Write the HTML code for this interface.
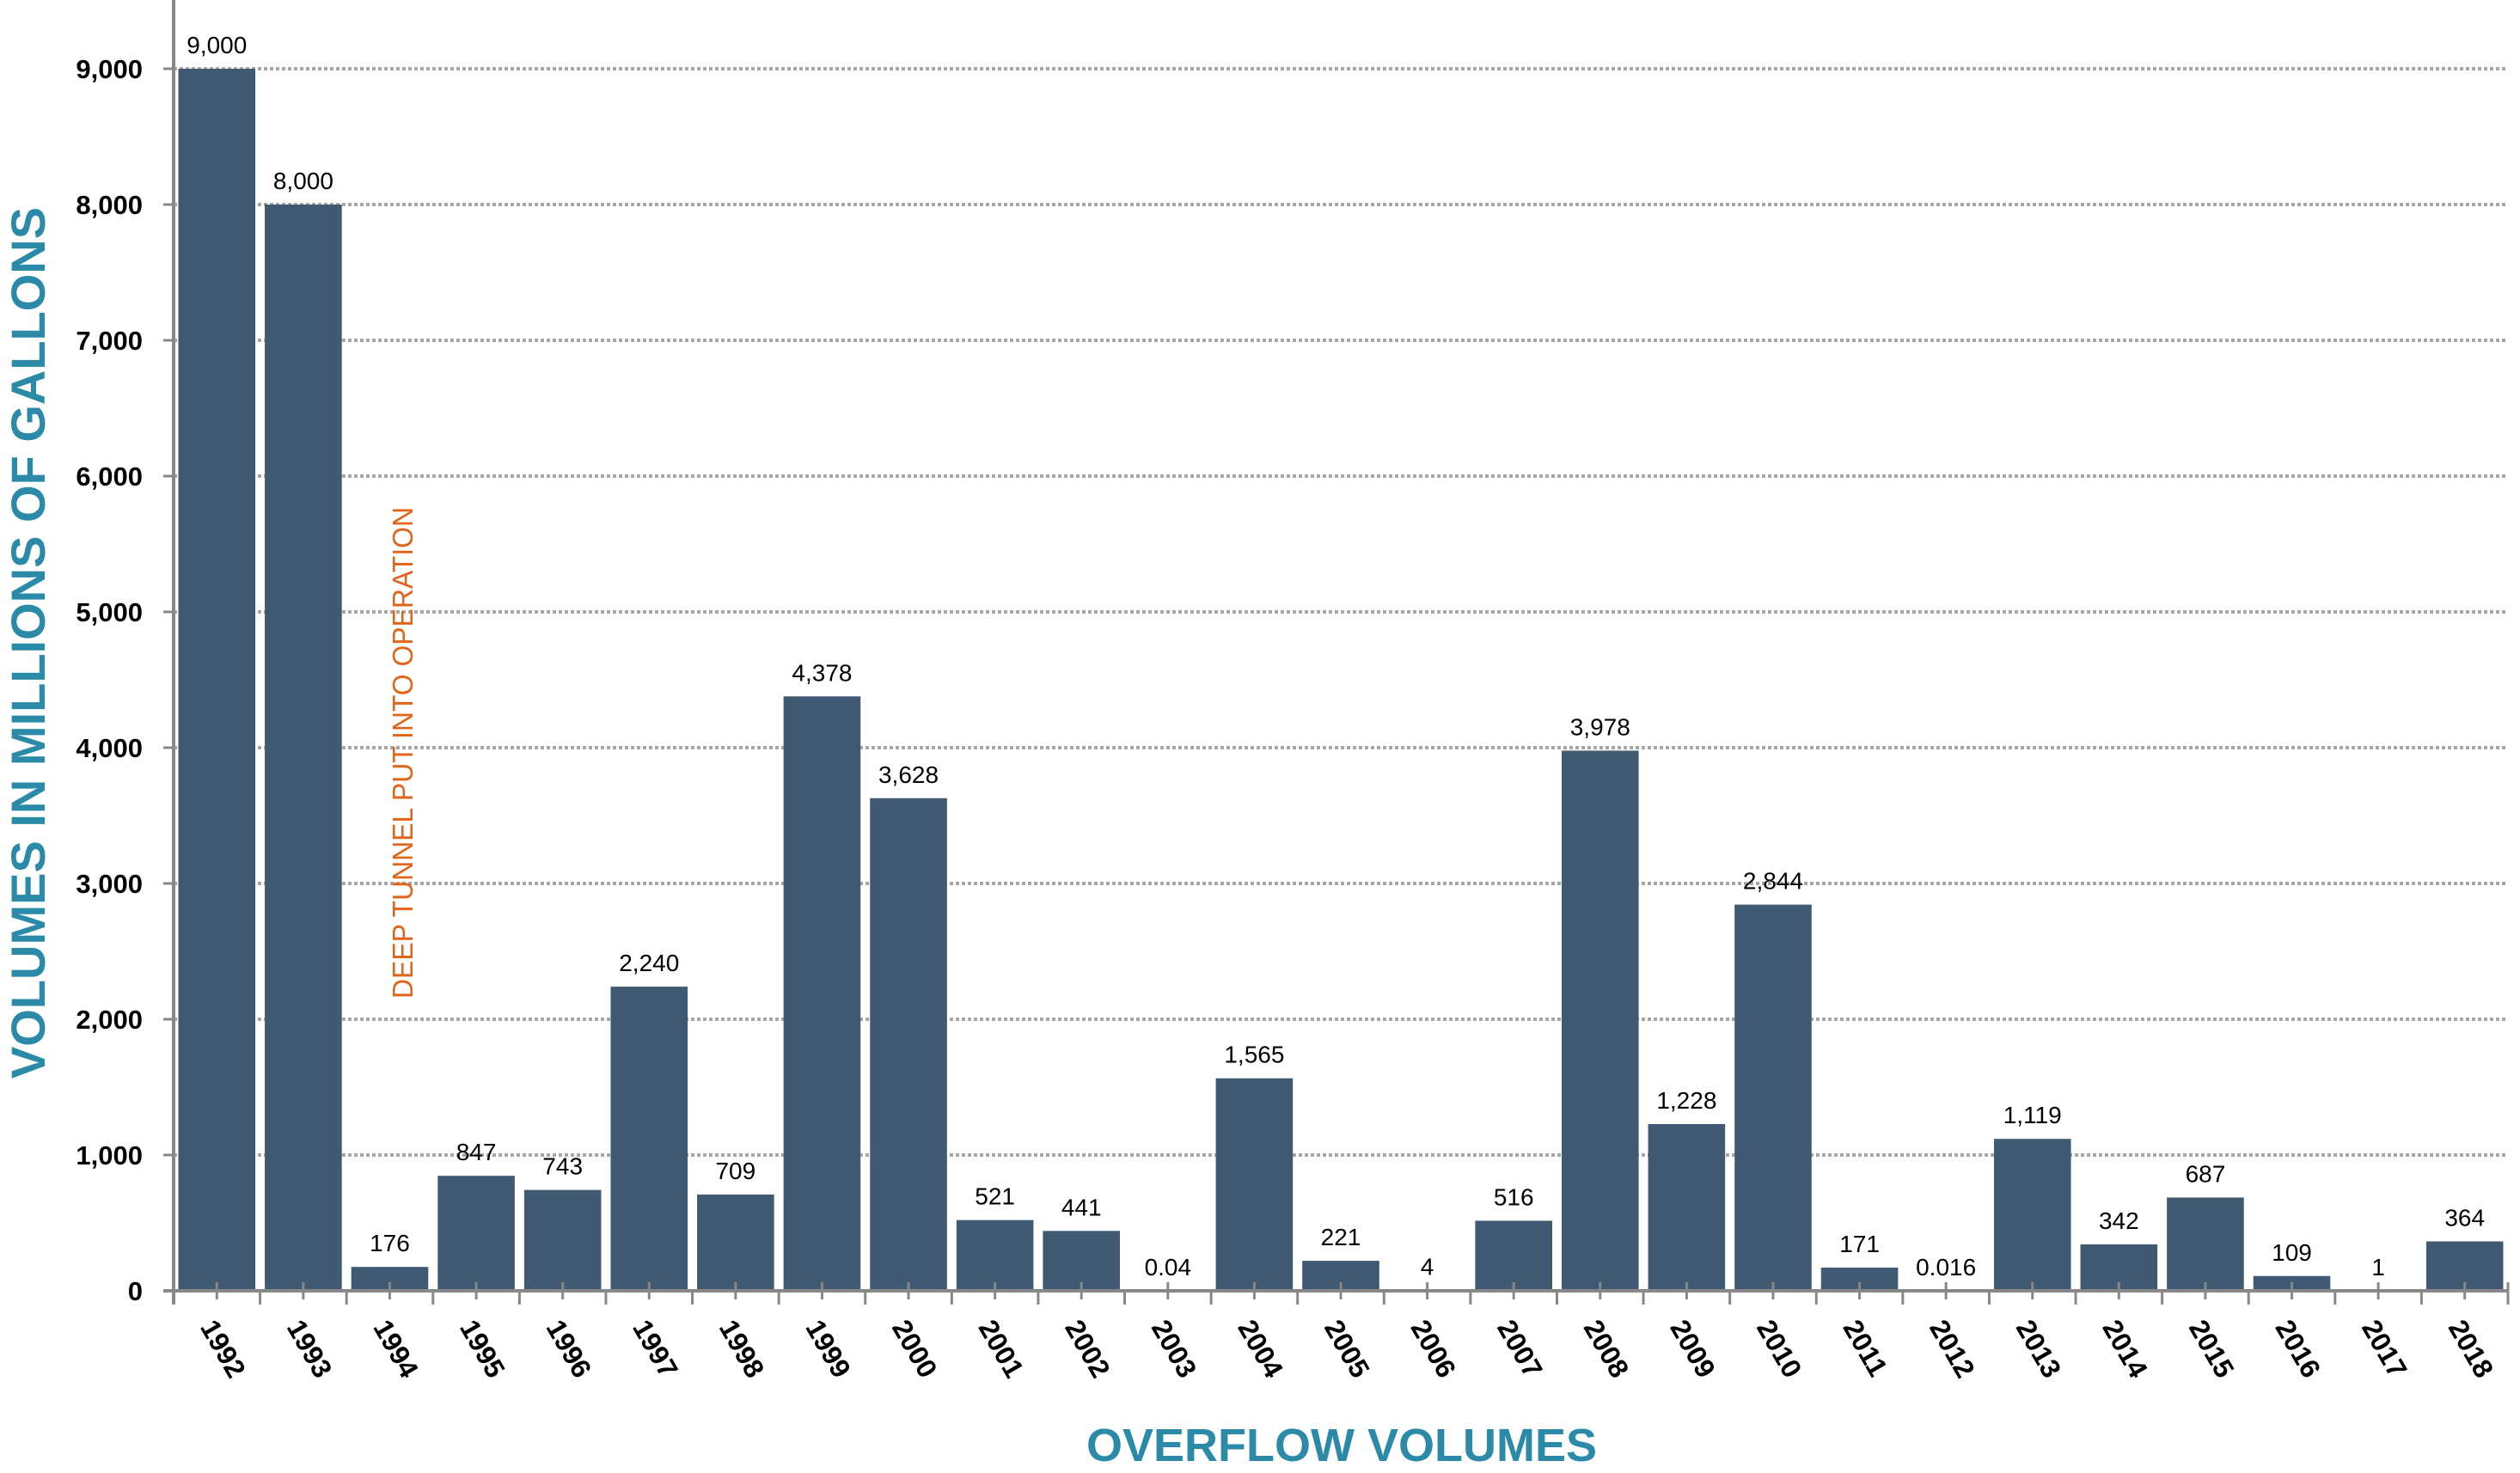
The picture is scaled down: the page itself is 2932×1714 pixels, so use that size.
<!DOCTYPE html>
<html><head><meta charset="utf-8"><style>
html,body{margin:0;padding:0;background:#fff;}
svg{display:block;font-family:"Liberation Sans",sans-serif;}
</style></head><body>
<svg id="chart" width="2932" height="1714" viewBox="0 0 2932 1714" xmlns="http://www.w3.org/2000/svg">
<g id="grid"></g>
<g id="bars"></g>
<g id="axes"></g>
<text transform="translate(52,748) rotate(-90)" text-anchor="middle" font-size="56" font-weight="bold" fill="#2b8aa8">VOLUMES IN MILLIONS OF GALLONS</text>
<text x="1561" y="1700" text-anchor="middle" font-size="54" font-weight="bold" fill="#2b8aa8">OVERFLOW VOLUMES</text>
<text transform="translate(480,1162) rotate(-90)" font-size="33" fill="#e0651a" textLength="572" lengthAdjust="spacingAndGlyphs">DEEP TUNNEL PUT INTO OPERATION</text>
</svg>
<script>
const years = ["1992","1993","1994","1995","1996","1997","1998","1999","2000","2001","2002","2003","2004","2005","2006","2007","2008","2009","2010","2011","2012","2013","2014","2015","2016","2017","2018"];
const volumes = [9000,8000,176,847,743,2240,709,4378,3628,521,441,0.04,1565,221,4,516,3978,1228,2844,171,0.016,1119,342,687,109,1,364];
const valueLabels = ["9,000","8,000","176","847","743","2,240","709","4,378","3,628","521","441","0.04","1,565","221","4","516","3,978","1,228","2,844","171","0.016","1,119","342","687","109","1","364"];
const yTicks = [0,1000,2000,3000,4000,5000,6000,7000,8000,9000];
const yTickLabels = ["0","1,000","2,000","3,000","4,000","5,000","6,000","7,000","8,000","9,000"];

const NS="http://www.w3.org/2000/svg";
const X0=202, X1=2918, Y0=1502, YTOP=80, YMAX=9000;
const band=(X1-X0)/years.length;
const y=v=>Y0-(v/YMAX)*(Y0-YTOP);
const xL=i=>X0+i*band;
function mk(tag,attrs,parent){const e=document.createElementNS(NS,tag);for(const k in attrs)e.setAttribute(k,attrs[k]);parent.appendChild(e);return e;}
const grid=document.getElementById('grid'),bars=document.getElementById('bars'),axes=document.getElementById('axes');

yTicks.forEach((t,i)=>{
  if(t>0){const g=mk('line',{x1:X0,x2:X1,y1:y(t),y2:y(t),stroke:'#a6a6a6','stroke-width':4,'stroke-dasharray':'4 3'},grid);
  
  }
  const tk=mk('line',{x1:X0-12,x2:X0,y1:y(t),y2:y(t),stroke:'#888','stroke-width':3},axes);
  
  
  const lb=mk('text',{x:166,y:y(t)+11,'text-anchor':'end','font-size':31,'font-weight':'bold',fill:'#000'},axes);
  lb.textContent=yTickLabels[i];
  
  
});

years.forEach((yr,i)=>{
  const cx=xL(i)+band/2, w=band-11;
  const h=Y0-y(volumes[i]);
  const r=mk('rect',{x:cx-w/2,y:y(volumes[i]),width:w,height:h,fill:'#415a73'},bars);
  
  
  const v=mk('text',{x:cx,y:y(volumes[i])-18,'text-anchor':'middle','font-size':28,fill:'#000'},bars);
  v.textContent=valueLabels[i];
  
  
  const t1=mk('line',{x1:xL(i),x2:xL(i),y1:Y0,y2:Y0+16,stroke:'#888','stroke-width':3},axes);
  
  
  const t2=mk('line',{x1:cx,x2:cx,y1:Y0-10,y2:Y0+10,stroke:'#888','stroke-width':3},axes);
  
  
  const xl=mk('text',{transform:`translate(${cx-20},${Y0+42}) rotate(60)`,'font-size':32,'font-weight':'bold',fill:'#000'},axes);
  xl.textContent=yr;
  
  
});
const tEnd=mk('line',{x1:X1,x2:X1,y1:Y0-10,y2:Y0+16,stroke:'#888','stroke-width':3},axes);


const xa=mk('line',{x1:X0-12,x2:X1,y1:Y0,y2:Y0,stroke:'#888','stroke-width':4},axes);


const ya=mk('line',{x1:X0,x2:X0,y1:0,y2:Y0+16,stroke:'#888','stroke-width':4},axes);


</script>
</body></html>
